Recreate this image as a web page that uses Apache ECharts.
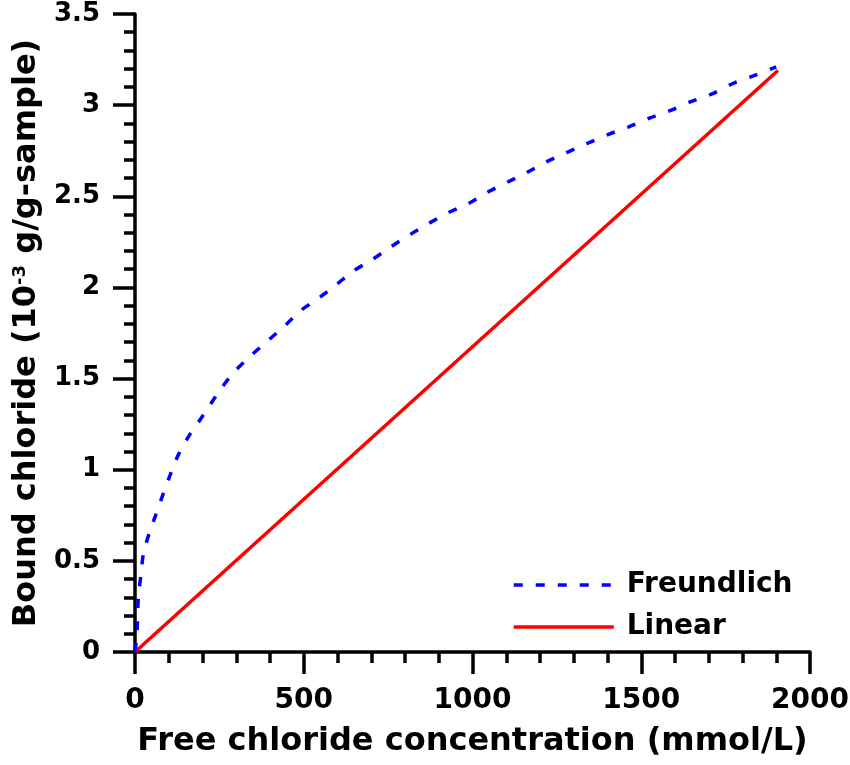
<!DOCTYPE html>
<html>
<head>
<meta charset="utf-8">
<script src="https://cdn.jsdelivr.net/npm/echarts@6/dist/echarts.min.js"></script>
<style>html,body{margin:0;padding:0;background:#fff}#c{width:850px;height:765px}</style>
</head>
<body>
<div id="c"></div>
<script>
// Free chloride concentration (mmol/L) vs bound chloride (10^-3 g/g-sample)
var freundlichX = [0, 5, 7, 10, 18, 25, 42, 61, 84, 106, 128, 158, 188, 222, 257, 296, 346, 395, 444, 489, 543, 593, 647, 701, 756, 815, 869, 928, 988, 1042, 1106, 1161, 1220, 1279, 1340, 1403, 1462, 1526, 1585, 1649, 1708, 1773, 1832, 1900];
var freundlichY = [0, 0.08, 0.16, 0.30, 0.43, 0.54, 0.65, 0.75, 0.87, 0.98, 1.08, 1.18, 1.26, 1.355, 1.45, 1.54, 1.63, 1.71, 1.79, 1.87, 1.94, 2.01, 2.09, 2.15, 2.22, 2.29, 2.35, 2.41, 2.46, 2.52, 2.58, 2.63, 2.69, 2.74, 2.79, 2.84, 2.88, 2.93, 2.97, 3.02, 3.06, 3.12, 3.16, 3.21];
var linearX = [0, 1905];
var linearY = [0, 3.19];
var seriesNames = ['Freundlich', 'Linear'];
var xTicks = [0, 500, 1000, 1500, 2000];
var yTicks = [0, 0.5, 1, 1.5, 2, 2.5, 3, 3.5];

function pairs(xs, ys) { return xs.map(function (x, i) { return [x, ys[i]]; }); }

var FONT = 'DejaVu Sans';
var chart = echarts.init(document.getElementById('c'), null, { renderer: 'canvas' });
var axisCommon = {
  axisLine: { lineStyle: { color: '#000', width: 3.5 } },
  axisTick: { show: true, inside: false, length: 22, lineStyle: { color: '#000', width: 3.5 } },
  minorTick: { show: true, splitNumber: 5, length: 11, lineStyle: { color: '#000', width: 3.5 } },
  splitLine: { show: false },
  minorSplitLine: { show: false }
};
chart.setOption({
  animation: false,
  backgroundColor: '#fff',
  grid: { left: 135, right: 40, top: 14, bottom: 113, containLabel: false, outerBoundsMode: 'none' },
  legend: {
    orient: 'vertical', left: 507, top: 566,
    itemWidth: 100, itemHeight: 14, itemGap: 14,
    itemStyle: { opacity: 0 },
    lineStyle: { width: 3.5 },
    textStyle: { fontFamily: FONT, fontWeight: 'bold', fontSize: 28, color: '#000', padding: [0, 0, 0, 8] },
    data: seriesNames
  },
  xAxis: Object.assign({
    type: 'value', min: xTicks[0], max: xTicks[xTicks.length - 1], interval: 500,
    name: 'Free chloride concentration (mmol/L)', nameLocation: 'middle', nameGap: 74,
    nameTextStyle: { fontFamily: FONT, fontWeight: 'bold', fontSize: 32, color: '#000' },
    axisLabel: { margin: 35, fontFamily: FONT, fontWeight: 'bold', fontSize: 28, color: '#000',
      formatter: function (v) { return String(v); } }
  }, axisCommon),
  yAxis: Object.assign({
    type: 'value', min: yTicks[0], max: yTicks[yTicks.length - 1], interval: 0.5,
    name: 'Bound chloride (10{sup|-3} g/g-sample)', nameLocation: 'middle', nameGap: 92,
    nameTextStyle: { fontFamily: FONT, fontWeight: 'bold', fontSize: 32, color: '#000',
      rich: { sup: { fontFamily: FONT, fontWeight: 'bold', fontSize: 18, color: '#000', verticalAlign: 'top', padding: [0, 0, 14, 0] } } },
    axisLabel: { margin: 35, fontFamily: FONT, fontWeight: 'bold', fontSize: 26, color: '#000',
      formatter: function (v) { return String(v); } }
  }, axisCommon),
  series: [
    { name: seriesNames[0], type: 'line', data: pairs(freundlichX, freundlichY), showSymbol: false, symbol: 'none', smooth: 0.3,
      lineStyle: { color: '#0000ff', width: 3.5, type: [9, 13] }, itemStyle: { color: '#0000ff' }, z: 3 },
    { name: seriesNames[1], type: 'line', data: pairs(linearX, linearY), showSymbol: false, symbol: 'none',
      lineStyle: { color: '#ff0000', width: 3.5, type: 'solid' }, itemStyle: { color: '#ff0000' }, z: 2 }
  ]
});
</script>
</body>
</html>
